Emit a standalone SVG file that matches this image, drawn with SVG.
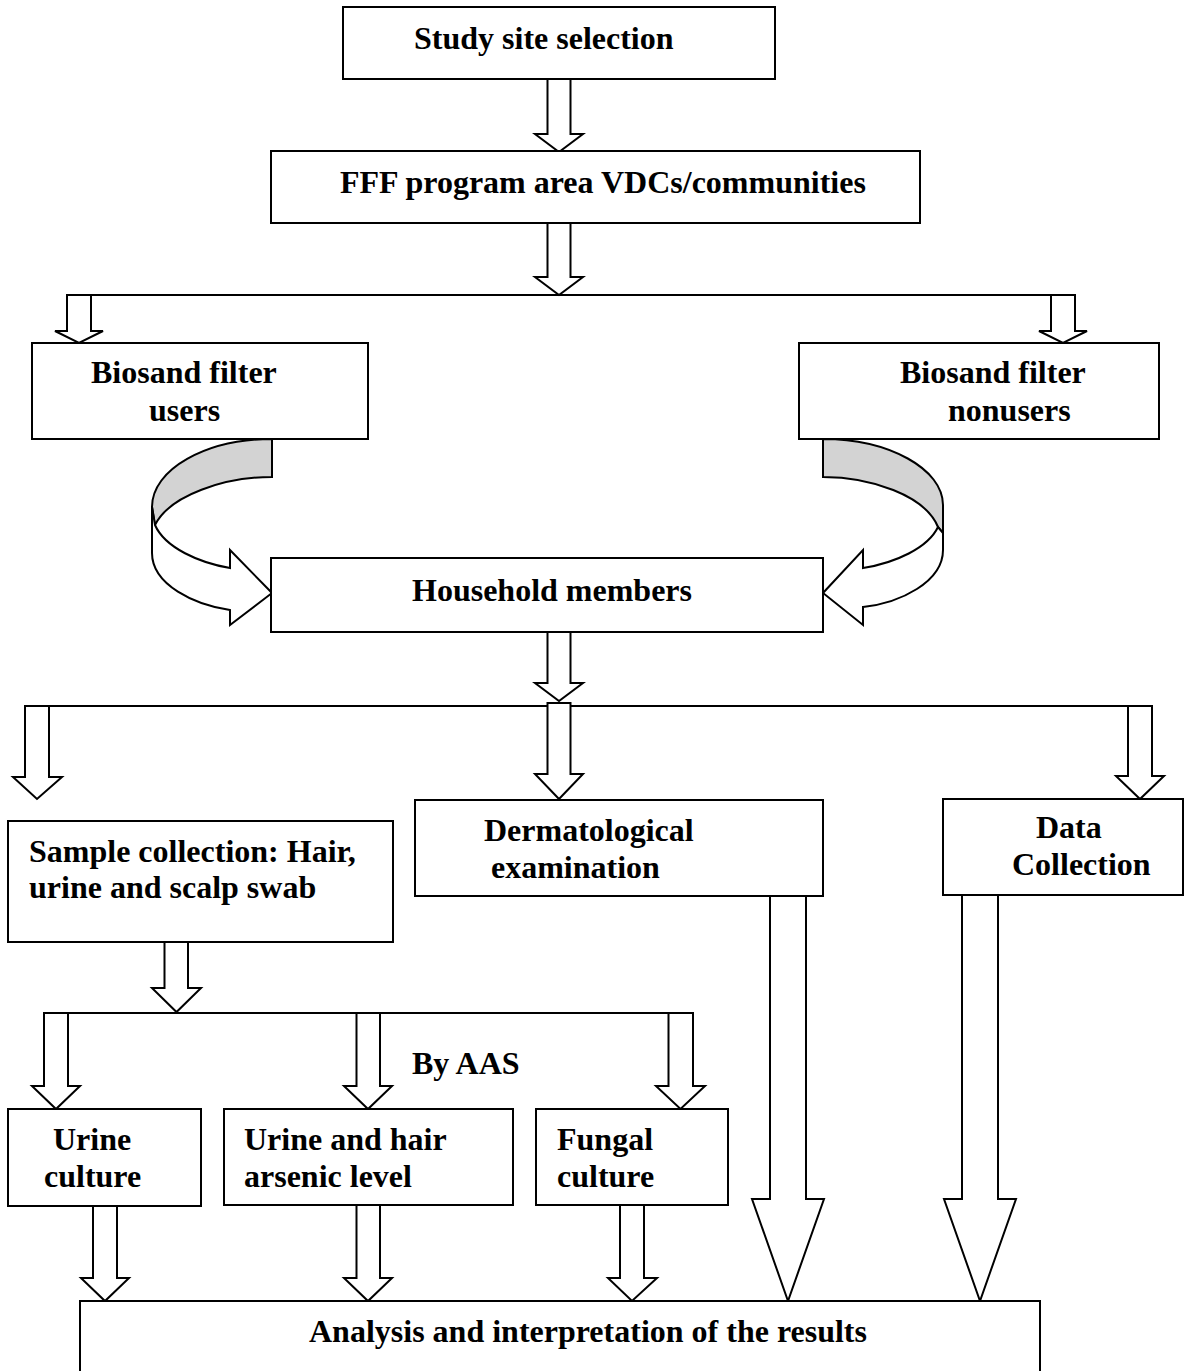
<svg xmlns="http://www.w3.org/2000/svg" width="1189" height="1371" viewBox="0 0 1189 1371">
<style>
.box{fill:#fff;stroke:#000;stroke-width:2}
.arr{fill:#fff;stroke:#000;stroke-width:2;stroke-linejoin:miter}
.ln{fill:none;stroke:#000;stroke-width:2}
.gray{fill:#d3d3d3;stroke:#000;stroke-width:2}
text{font-family:"Liberation Serif","Times New Roman",serif;font-weight:bold;font-size:32px;fill:#000}
</style>
<rect width="1189" height="1371" fill="#fff"/>
<g id="connectors">
<line class="ln" x1="67" y1="295" x2="1075" y2="295"/>
<line class="ln" x1="25" y1="706" x2="1152" y2="706"/>
<line class="ln" x1="44" y1="1013" x2="693" y2="1013"/>
<polygon class="arr" points="547.5,79 570.5,79 570.5,134 583,134 559,152 535,134 547.5,134"/>
<polygon class="arr" points="547.5,223 570.5,223 570.5,277 583,277 559,295 535,277 547.5,277"/>
<polygon class="arr" points="67,295 91,295 91,331 103,331 79,343 55,331 67,331"/>
<polygon class="arr" points="1051,295 1075,295 1075,331 1087,331 1063,343 1039,331 1051,331"/>
<polygon class="arr" points="547.5,632 570.5,632 570.5,683 583,683 559,701 535,683 547.5,683"/>
<polygon class="arr" points="25,706 49,706 49,777 62,777 37,799 13,777 25,777"/>
<polygon class="arr" points="547.5,703 570.5,703 570.5,774 583,774 559,799 535,774 547.5,774"/>
<polygon class="arr" points="1128,706 1152,706 1152,776 1164,776 1140,799 1116,776 1128,776"/>
<polygon class="arr" points="164.5,942 188,942 188,988 201,988 176.5,1012 152,988 164.5,988"/>
<polygon class="arr" points="44,1013 68,1013 68,1086 80,1086 56,1109 32,1086 44,1086"/>
<polygon class="arr" points="356.5,1013 380,1013 380,1086 392,1086 368,1109 344,1086 356.5,1086"/>
<polygon class="arr" points="668.5,1013 693,1013 693,1086 705,1086 680.5,1109 656,1086 668.5,1086"/>
<polygon class="arr" points="93,1206 117,1206 117,1278 129,1278 105,1301 81,1278 93,1278"/>
<polygon class="arr" points="356.5,1205 380,1205 380,1278 392,1278 368,1301 344,1278 356.5,1278"/>
<polygon class="arr" points="620,1205 644,1205 644,1278 657,1278 632,1301 608,1278 620,1278"/>
<polygon class="arr" points="770,896 806,896 806,1199 824,1199 788,1301 752,1199 770,1199"/>
<polygon class="arr" points="962,895 998,895 998,1199 1016,1199 980,1301 944,1199 962,1199"/>
<path class="gray" d="M272,439 C205.7,439 152,469.4 152,507 L155,525 C170,495 225,477 272,477 Z"/>
<path class="arr" d="M152,507 L152,553 C152,585 195,605 230,610 L230,625 L272,593 L230,550 L230,568 C200,563 165,548 155,525 Z"/>
<path class="gray" d="M823,439 C889,439 943,469 943,505 L943,533 L938,527 C925,495 870,477 823,477 Z"/>
<path class="arr" d="M943,533 L943,550 C943,582 900,603 863,607 L863,625 L823,593 L863,550 L863,568 C895,563 928,548 938,527 Z"/>
</g>
<g id="study"><rect class="box" x="343" y="7" width="432" height="72"/><text x="414" y="49">Study site selection</text></g>
<g id="fff"><rect class="box" x="271" y="151" width="649" height="72"/><text x="340" y="193">FFF program area VDCs/communities</text></g>
<g id="users"><rect class="box" x="32" y="343" width="336" height="96"/><text x="91" y="383">Biosand filter</text><text x="149" y="421">users</text></g>
<g id="nonusers"><rect class="box" x="799" y="343" width="360" height="96"/><text x="900" y="383">Biosand filter</text><text x="948" y="421">nonusers</text></g>
<g id="household"><rect class="box" x="271" y="558" width="552" height="74"/><text x="412" y="601">Household members</text></g>
<g id="sample"><rect class="box" x="8" y="821" width="385" height="121"/><text x="29" y="862">Sample collection: Hair,</text><text x="29" y="898">urine and scalp swab</text></g>
<g id="derm"><rect class="box" x="415" y="800" width="408" height="96"/><text x="484" y="841">Dermatological</text><text x="491" y="878">examination</text></g>
<g id="data"><rect class="box" x="943" y="799" width="240" height="96"/><text x="1036" y="838">Data</text><text x="1012" y="875">Collection</text></g>
<g id="byaas"><text x="412" y="1074">By AAS</text></g>
<g id="urine"><rect class="box" x="8" y="1109" width="193" height="97"/><text x="53" y="1150">Urine</text><text x="44" y="1187">culture</text></g>
<g id="arsenic"><rect class="box" x="224" y="1109" width="289" height="96"/><text x="244" y="1150">Urine and hair</text><text x="244" y="1187">arsenic level</text></g>
<g id="fungal"><rect class="box" x="536" y="1109" width="192" height="96"/><text x="557" y="1150">Fungal</text><text x="557" y="1187">culture</text></g>
<g id="analysis"><rect class="box" x="80" y="1301" width="960" height="80"/><text x="309" y="1342">Analysis and interpretation of the results</text></g>
</svg>
